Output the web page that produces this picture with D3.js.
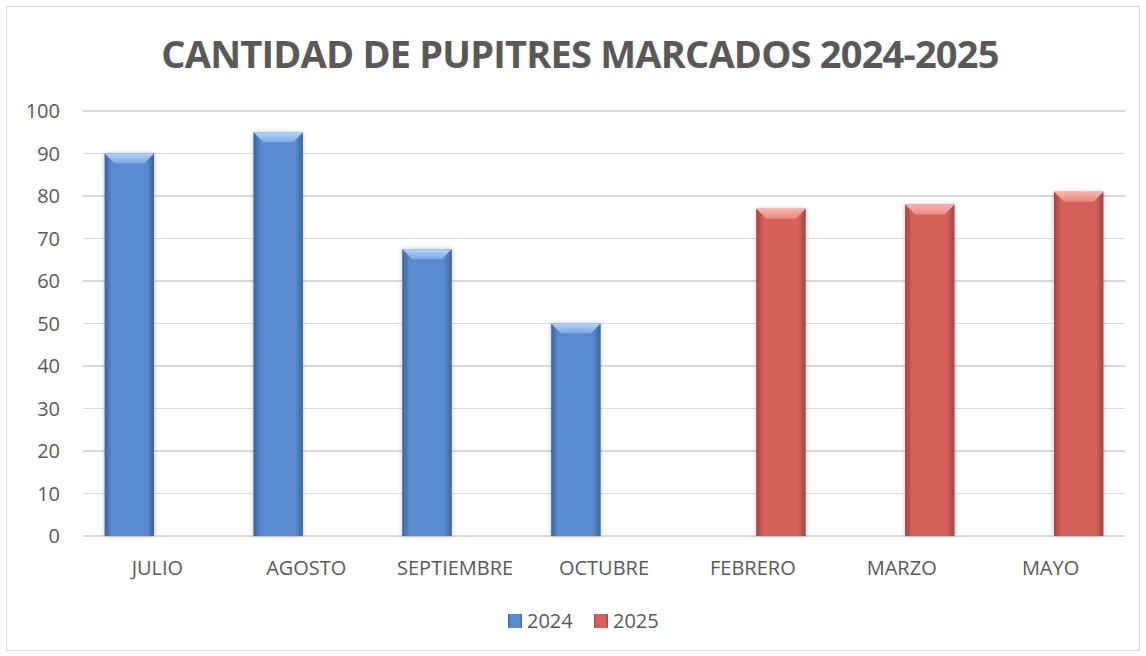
<!DOCTYPE html>
<meta charset="utf-8">
<style>
body { margin: 0; background: #fff; }
svg text { font-family: "Open Sans", "Liberation Sans", sans-serif; fill: #595959; }
.grid line { stroke: #d9d9d9; stroke-width: 1.5px; shape-rendering: crispEdges; }
.title { font-weight: bold; font-size: 38px; letter-spacing: -0.8px; }
.tick-y, .tick-x, .legend text { font-size: 20px; }
</style>
<body>
<script src="https://cdn.jsdelivr.net/npm/d3@7"></script>
<script>

var categories = ["JULIO", "AGOSTO", "SEPTIEMBRE", "OCTUBRE", "FEBRERO", "MARZO", "MAYO"];
var series = ["2024", "2025"];
var values2024 = [90, 95, 67.5, 50, null, null, null];
var values2025 = [null, null, null, null, 77, 78, 81];
var yTicks = [0, 10, 20, 30, 40, 50, 60, 70, 80, 90, 100];

var width = 1146, height = 656;
var margin = {top: 111, right: 21, bottom: 120, left: 83};

var svg = d3.select("body").append("svg")
    .attr("width", width)
    .attr("height", height);

// outer frame
svg.append("rect")
    .attr("x", 6.5).attr("y", 6.5)
    .attr("width", width - 13).attr("height", height - 12)
    .attr("fill", "#fff")
    .attr("stroke", "#d9d9d9");

var defs = svg.append("defs");
function bevel(id, edge, mid, light, top2) {
  var g = defs.append("linearGradient").attr("id", id)
      .attr("x1", 0).attr("x2", 1).attr("y1", 0).attr("y2", 0);
  g.append("stop").attr("offset", "0%").attr("stop-color", edge);
  g.append("stop").attr("offset", "15%").attr("stop-color", mid);
  g.append("stop").attr("offset", "85%").attr("stop-color", mid);
  g.append("stop").attr("offset", "100%").attr("stop-color", edge);
  var t = defs.append("linearGradient").attr("id", id + "-top")
      .attr("x1", 0).attr("x2", 0).attr("y1", 0).attr("y2", 1);
  t.append("stop").attr("offset", "0%").attr("stop-color", light);
  t.append("stop").attr("offset", "100%").attr("stop-color", top2);
}
bevel("blue", "#3b6399", "#5a8bd0", "#b3d5f8", "#7aa8e4");
bevel("red", "#a04543", "#d6605a", "#f8b5ae", "#e88780");
var shadow = defs.append("filter").attr("id", "shadow")
    .attr("x", "-20%").attr("y", "-5%").attr("width", "140%").attr("height", "110%");
shadow.append("feDropShadow").attr("dx", 0).attr("dy", 0)
    .attr("stdDeviation", 2).attr("flood-color", "#000").attr("flood-opacity", 0.25);

var x0 = d3.scaleBand()
    .domain(categories)
    .range([margin.left, width - margin.right]);

var x1 = d3.scaleBand()
    .domain(series)
    .range([x0.bandwidth() * 0.145, x0.bandwidth() * 0.855])
    .paddingInner(0.12);

var y = d3.scaleLinear()
    .domain([0, 100])
    .range([height - margin.bottom, margin.top]);

// gridlines
svg.append("g").attr("class", "grid")
  .selectAll("line")
    .data(yTicks)
  .enter().append("line")
    .attr("x1", margin.left)
    .attr("x2", width - margin.right)
    .attr("y1", function(d) { return y(d); })
    .attr("y2", function(d) { return y(d); });

svg.append("g")
  .selectAll("text")
    .data(yTicks)
  .enter().append("text")
    .attr("class", "tick-y")
    .attr("x", 60)
    .attr("y", function(d) { return y(d); })
    .attr("dy", "0.35em")
    .attr("text-anchor", "end")
    .text(function(d) { return d; });

svg.append("g")
  .selectAll("text")
    .data(categories)
  .enter().append("text")
    .attr("class", "tick-x")
    .attr("x", function(d) { return x0(d) + x0.bandwidth() / 2; })
    .attr("y", 575)
    .attr("text-anchor", "middle")
    .text(function(d) { return d; });

var rows = [];
categories.forEach(function(c, i) {
  if (values2024[i] != null) rows.push({cat: c, s: "2024", v: values2024[i], id: "blue"});
  if (values2025[i] != null) rows.push({cat: c, s: "2025", v: values2025[i], id: "red"});
});

var bar = svg.append("g")
  .selectAll("g")
    .data(rows)
  .enter().append("g")
    .attr("transform", function(d) { return "translate(" + (x0(d.cat) + x1(d.s)) + ",0)"; });

bar.append("rect")
    .attr("x", 0)
    .attr("width", x1.bandwidth())
    .attr("y", function(d) { return y(d.v); })
    .attr("height", function(d) { return y(0) - y(d.v); })
    .attr("fill", function(d) { return "url(#" + d.id + ")"; })
    .attr("filter", "url(#shadow)");

// top bevel
bar.append("path")
    .attr("d", function(d) {
      var w = x1.bandwidth(), t = y(d.v), b = 10;
      return "M0," + t + "H" + w + "L" + (w - b) + "," + (t + b) + "H" + b + "Z";
    })
    .attr("fill", function(d) { return "url(#" + d.id + "-top)"; });

svg.append("text")
    .attr("class", "title")
    .attr("x", 580)
    .attr("y", 68)
    .attr("text-anchor", "middle")
    .text("CANTIDAD DE PUPITRES MARCADOS 2024-2025");

var legend = svg.append("g").attr("class", "legend")
  .selectAll("g")
    .data(series)
  .enter().append("g")
    .attr("transform", function(d, i) { return "translate(" + (508 + i * 86) + ",621)"; });

legend.append("rect")
    .attr("x", 0).attr("y", -7)
    .attr("width", 14).attr("height", 14)
    .attr("fill", function(d, i) { return i ? "url(#red)" : "url(#blue)"; });

legend.append("text")
    .attr("x", 19)
    .attr("dy", "0.35em")
    .text(function(d) { return d; });

</script>
